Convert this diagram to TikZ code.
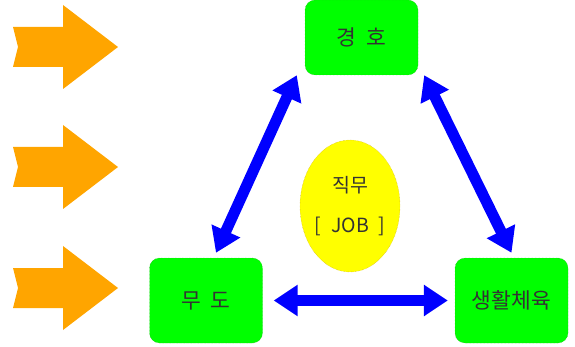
\documentclass[tikz,border=0pt]{standalone}
\usepackage{fontspec}
\newfontfamily\kofont{Noto Sans CJK KR}
\usetikzlibrary{shapes.geometric, arrows.meta, positioning}

\definecolor{arroworange}{RGB}{255,165,0}
\definecolor{boxgreen}{RGB}{0,255,0}
\definecolor{boxline}{RGB}{40,160,40}
\definecolor{jobyellow}{RGB}{255,255,0}
\definecolor{jobline}{RGB}{200,160,40}
\definecolor{linkblue}{RGB}{0,0,255}

\begin{document}
\begin{tikzpicture}[x=1pt, y=-1pt,
    every node/.style={font=\kofont\fontsize{21.5}{24}\selectfont, text=black!80},
    box/.style={rectangle, rounded corners=10pt, draw=boxline, densely dotted, fill=boxgreen, minimum width=113pt},
    link/.style={draw=linkblue, line width=11pt, {Triangle[length=24pt, width=30pt]}-{Triangle[length=24pt, width=30pt]}}]
        \useasboundingbox (0,0) rectangle (575,347);

        % Arrows on the left
        \foreach \y in {47,167,288}
            \fill[arroworange] (13,\y-20) -- (63,\y-20) -- (63,\y-42) -- (118,\y)
                -- (63,\y+42) -- (63,\y+20) -- (13,\y+20) -- (18,\y) -- cycle;

        \node[box, minimum height=75pt] (guard) at (361.5,37.5) {경\hspace{0.45em}호};
        \node[box, minimum height=85pt] (martial) at (206,300.5) {무\hspace{0.45em}도};
        \node[box, minimum height=85pt] (sports) at (511.5,300.5) {생활체육};

        \node[ellipse, draw=jobline, densely dotted, fill=jobyellow, minimum width=100pt, minimum height=132pt,
            inner sep=0pt, align=center, font=\kofont\fontsize{19.5}{22}\selectfont] (job) at (350,206)
            {직무\\[18pt]{[}\hspace{0.5em}JOB\hspace{0.5em}{]}};

        % Links
        \draw[link] ([xshift=-8pt]guard.south west) -- ([xshift=10pt, yshift=5pt]martial.north);
        \draw[link] ([xshift=6pt]guard.south east) -- ([yshift=5pt]sports.north);
        \draw[link] ([xshift=11pt]martial.east) -- ([xshift=-7pt]sports.west);
    \end{tikzpicture}
\end{document}
